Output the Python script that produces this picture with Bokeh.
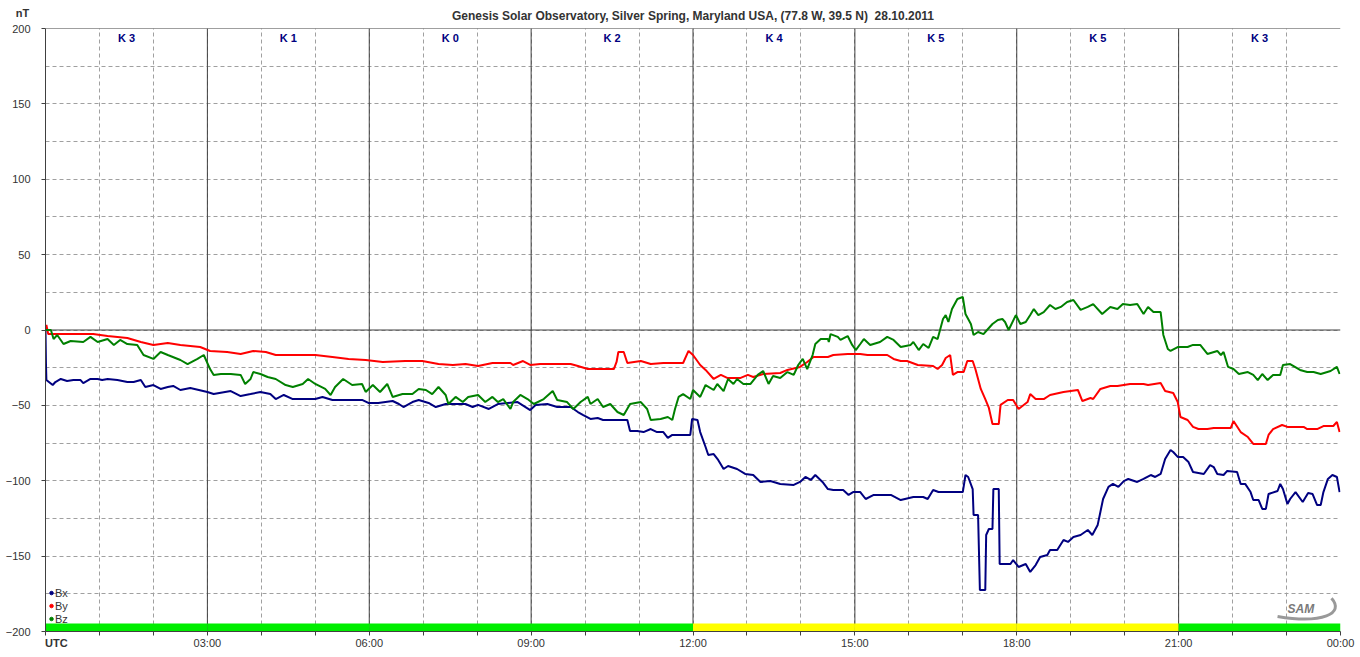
from bokeh.plotting import figure
from bokeh.models import FixedTicker, Span, Label, Range1d
from bokeh.embed import file_html
from bokeh.resources import INLINE

TITLE = "Genesis Solar Observatory, Silver Spring, Maryland USA, (77.8 W, 39.5 N) \u00a028.10.2011"

# K-index per 3-hour block
k_hours = [0, 3, 6, 9, 12, 15, 18, 21]
k_index = [3, 1, 0, 2, 4, 5, 5, 3]

# time in minutes of day (UTC), values in nT
bx_t = [0, 0.5, 1, 8, 11, 17, 24, 31, 39, 42, 50, 58, 63, 69, 80, 91, 98, 106, 111, 120, 128, 136, 142, 150, 161,
        180, 187, 206, 217, 228, 239, 250, 256, 265, 275, 300, 308, 319, 352, 359, 370, 386, 393, 398, 408, 415,
        426, 434, 445, 467, 475, 481, 493, 503, 525, 539, 545, 558, 569, 584, 592, 598, 606, 614, 620, 647, 650,
        658, 665, 673, 680, 687, 692, 697, 717, 719, 725, 728, 734, 737, 743, 748, 754, 759, 769, 778, 787, 795,
        806, 817, 832, 839, 845, 851, 856, 864, 870, 876, 887, 893, 898, 906, 912, 921, 940, 951, 965, 976, 981,
        987, 993, 1020, 1023, 1026, 1031, 1032, 1037, 1039, 1045, 1046, 1049, 1053, 1054, 1060, 1061, 1073, 1076,
        1082, 1090, 1095, 1101, 1106, 1114, 1117, 1125, 1132, 1137, 1143, 1151, 1159, 1164, 1170, 1173, 1176,
        1182, 1187, 1193, 1199, 1204, 1214, 1221, 1229, 1234, 1240, 1245, 1251, 1254, 1259, 1265, 1271, 1276,
        1288, 1295, 1299, 1303, 1310, 1314, 1325, 1329, 1334, 1340, 1343, 1349, 1353, 1357, 1360, 1370, 1373,
        1376, 1381, 1384, 1390, 1398, 1404, 1409, 1414, 1418, 1421, 1426, 1431, 1436, 1439]
bx_v = [0, -22, -33.2, -36.5, -34.5, -32.5, -33.8, -33.2, -33.2, -35.2, -32.5, -32.5, -33.2, -32.5, -33.2, -34.5,
        -34.5, -33.2, -37.8, -36.5, -39.1, -37.8, -37.1, -39.8, -38.5, -41.1, -42.5, -40.5, -43.8, -42.5, -41.1,
        -42.5, -45.8, -43.1, -45.8, -45.8, -44.4, -46.4, -46.4, -48.4, -48.4, -47.1, -49.1, -51.1, -47.8, -46.4,
        -48.4, -51.1, -49.1, -49.1, -51.1, -49.7, -52.4, -49.1, -47.8, -53.1, -49.7, -49.1, -51.1, -51.1, -54.4,
        -56.4, -59.0, -58.4, -59.7, -59.7, -67.0, -67.0, -67.7, -65.7, -67.7, -67.7, -71.6, -69.6, -69.6, -59.0,
        -59.7, -67.7, -77.6, -82.9, -82.3, -86.2, -92.2, -90.2, -92.2, -95.5, -96.2, -100.8, -100.2, -102.1,
        -102.8, -100.8, -97.5, -99.5, -96.2, -100.8, -105.5, -106.1, -106.1, -109.4, -107.5, -107.5, -112.1,
        -109.4, -109.4, -112.8, -110.8, -110.8, -112.1, -106.1, -107.5, -107.5, -96.2, -97.5, -105.5, -122.7,
        -122.7, -172.5, -172.5, -136.0, -132.0, -132.0, -105.5, -105.5, -155.2, -155.2, -152.6, -157.2, -155.2,
        -160.5, -155.9, -150.6, -149.2, -145.9, -145.9, -139.3, -140.6, -137.3, -136.0, -132.7, -136.0, -129.3,
        -120.7, -112.1, -104.1, -102.1, -104.1, -100.2, -98.8, -100.8, -98.8, -96.2, -97.5, -95.5, -85.6, -79.6,
        -80.9, -84.2, -84.2, -87.6, -94.2, -95.5, -89.6, -90.9, -95.5, -96.2, -93.5, -94.2, -102.1, -102.1,
        -107.5, -112.8, -112.8, -118.7, -118.7, -108.8, -106.8, -102.1, -105.5, -115.4, -112.1, -107.5, -114.1,
        -108.1, -108.8, -116.1, -116.1, -107.5, -98.8, -96.2, -97.5, -107.5]

by_t = [0, 1, 3, 31, 53, 69, 91, 106, 120, 136, 150, 172, 183, 202, 217, 231, 245, 256, 281, 300, 319, 337, 356,
        375, 400, 419, 437, 453, 467, 481, 497, 517, 520, 531, 539, 550, 584, 592, 603, 632, 635, 637, 643, 647,
        662, 673, 687, 709, 715, 720, 728, 734, 743, 751, 758, 773, 781, 787, 798, 817, 825, 839, 847, 854, 870,
        876, 892, 906, 914, 936, 943, 951, 958, 970, 987, 992, 997, 1001, 1006, 1009, 1014, 1021, 1025, 1031,
        1034, 1040, 1045, 1049, 1053, 1060, 1062, 1070, 1076, 1082, 1092, 1095, 1101, 1110, 1117, 1132, 1148,
        1153, 1162, 1165, 1173, 1184, 1192, 1206, 1221, 1226, 1240, 1245, 1254, 1259, 1262, 1270, 1276, 1282,
        1292, 1299, 1318, 1321, 1329, 1337, 1343, 1357, 1360, 1365, 1375, 1381, 1399, 1403, 1414, 1421, 1432,
        1436, 1439]
by_v = [0, 3.3, -2.7, -2.7, -2.7, -4.0, -5.3, -8.0, -9.9, -8.6, -9.9, -11.3, -13.9, -14.6, -15.9, -13.9, -14.6,
        -16.6, -16.6, -16.6, -17.9, -19.2, -19.9, -21.2, -20.6, -20.6, -22.6, -23.2, -22.6, -23.9, -21.9, -21.9,
        -23.2, -20.6, -23.2, -22.6, -22.6, -23.9, -25.9, -25.9, -21.2, -14.6, -14.6, -21.9, -20.6, -22.6, -21.9,
        -21.9, -13.9, -16.6, -23.2, -26.5, -32.5, -29.8, -31.8, -31.8, -29.8, -31.2, -29.2, -28.5, -26.5, -24.5,
        -21.2, -17.9, -17.9, -16.6, -15.9, -15.9, -16.6, -16.6, -19.2, -20.6, -20.6, -23.2, -23.9, -25.9, -23.2,
        -18.6, -16.6, -29.8, -27.9, -27.9, -20.6, -20.6, -25.9, -39.1, -45.8, -51.7, -62.4, -62.4, -49.7, -46.4,
        -46.4, -52.4, -47.8, -42.5, -45.8, -45.8, -43.1, -41.1, -39.8, -47.1, -45.1, -45.8, -39.1, -37.1, -37.1,
        -35.8, -35.8, -36.5, -35.2, -40.5, -41.8, -47.8, -57.7, -59.7, -64.3, -65.7, -65.7, -65.0, -65.0, -60.4,
        -67.7, -71.0, -75.6, -75.6, -69.6, -65.7, -63.0, -64.3, -64.3, -65.7, -65.7, -63.7, -63.7, -61.0, -67.7]

bz_t = [0, 6, 9, 13, 20, 28, 42, 50, 58, 69, 76, 83, 91, 102, 109, 120, 128, 136, 150, 158, 169, 176, 183, 187,
        195, 206, 217, 222, 228, 231, 239, 247, 256, 267, 275, 286, 292, 300, 311, 317, 322, 331, 341, 352, 356,
        364, 372, 380, 386, 397, 408, 415, 423, 430, 437, 445, 448, 456, 464, 470, 481, 489, 497, 503, 509, 517,
        520, 528, 536, 543, 554, 564, 569, 580, 587, 595, 603, 606, 614, 620, 628, 636, 643, 650, 662, 669, 673,
        684, 692, 697, 700, 704, 709, 717, 720, 728, 734, 743, 747, 754, 759, 765, 769, 776, 784, 792, 798, 804,
        809, 817, 825, 832, 837, 842, 847, 853, 856, 862, 870, 871, 873, 881, 884, 892, 897, 901, 906, 910, 917,
        928, 936, 943, 951, 962, 965, 971, 976, 982, 987, 992, 995, 998, 1001, 1004, 1008, 1014, 1020, 1023,
        1029, 1032, 1037, 1043, 1047, 1053, 1059, 1064, 1067, 1071, 1079, 1084, 1090, 1095, 1099, 1104, 1110,
        1117, 1123, 1129, 1136, 1143, 1151, 1159, 1165, 1175, 1184, 1192, 1198, 1206, 1214, 1221, 1226, 1232,
        1240, 1243, 1248, 1251, 1259, 1270, 1276, 1284, 1292, 1303, 1307, 1310, 1315, 1321, 1327, 1337, 1343,
        1348, 1353, 1359, 1365, 1373, 1376, 1384, 1395, 1403, 1410, 1418, 1429, 1436, 1439]
bz_v = [0, 0, -6.0, -3.3, -9.3, -7.3, -8.0, -4.6, -8.0, -6.0, -9.9, -6.6, -9.3, -9.9, -16.6, -19.2, -14.6, -16.6,
        -19.9, -22.6, -19.2, -16.6, -25.9, -29.8, -29.2, -29.2, -29.8, -35.8, -32.5, -27.9, -29.2, -31.2, -32.5,
        -36.5, -37.8, -35.8, -32.5, -35.8, -39.1, -43.1, -37.8, -32.5, -36.5, -35.8, -41.1, -36.5, -41.1, -35.8,
        -44.4, -42.5, -42.5, -39.1, -39.8, -42.5, -37.8, -43.1, -49.1, -44.4, -47.8, -44.4, -43.1, -47.8, -44.4,
        -47.8, -45.8, -52.4, -47.8, -43.1, -45.8, -49.1, -45.8, -40.5, -46.4, -47.8, -52.4, -47.8, -44.4, -49.1,
        -45.8, -51.1, -49.1, -54.4, -56.4, -49.1, -47.8, -52.4, -59.7, -59.0, -57.7, -59.7, -52.4, -44.4, -42.5,
        -45.8, -39.8, -44.4, -36.5, -39.8, -35.8, -40.5, -32.5, -35.8, -32.5, -35.8, -35.8, -29.8, -27.2, -35.8,
        -30.5, -31.8, -27.9, -29.8, -23.2, -19.2, -25.9, -16.6, -9.3, -6.0, -6.0, -8.0, -2.7, -4.6, -6.6, -4.0,
        -9.9, -13.3, -9.3, -6.0, -9.9, -8.0, -4.6, -6.6, -11.3, -9.9, -8.0, -13.3, -9.3, -11.9, -4.6, -6.0, 0.7,
        7.3, 9.9, 5.3, 13.9, 20.6, 21.9, 10.6, 4.0, -3.3, -1.3, -2.7, 0.0, 4.0, 6.6, 7.3, 5.3, 0.0, 9.9, 4.0, 5.3,
        9.9, 13.9, 9.9, 11.9, 16.6, 13.9, 15.3, 18.6, 19.9, 13.3, 15.3, 17.2, 10.6, 15.3, 13.9, 17.2, 16.6, 17.2,
        10.6, 15.3, 11.9, 11.9, -3.3, -12.6, -13.9, -11.3, -11.3, -9.9, -9.9, -15.9, -13.9, -16.6, -14.6, -24.5,
        -25.9, -29.2, -27.9, -29.8, -33.2, -29.2, -33.2, -29.8, -29.8, -23.2, -22.6, -26.5, -27.9, -27.9, -29.2,
        -27.2, -24.5, -29.2]

series_names = ["Bx", "By", "Bz"]
series_colors = ["#000080", "#ff0000", "#008000"]

AXIS_COL = "#404040"
GRID_COL = "#a0a0a0"
TXT_COL = "#333333"
FONT = "Liberation Sans"

p = figure(frame_width=1295, frame_height=603, output_backend="svg", toolbar_location=None,
           x_range=Range1d(0, 1440), y_range=Range1d(-200, 200),
           min_border_left=45, min_border_right=20, min_border_top=27, min_border_bottom=27,
           background_fill_color="white", border_fill_color="white", title=TITLE)
p.outline_line_color = None
p.title.align = "center"
p.title.text_font = FONT
p.title.text_font_size = "12px"
p.title.text_font_style = "bold"
p.title.text_color = TXT_COL
p.title.standoff = 12

# axes
p.xaxis.ticker = FixedTicker(ticks=[60 * i for i in range(25)])
labels = {}
for i in range(25):
    m = 60 * i
    if i % 3 == 0 and 0 < i < 24:
        labels[m] = "%02d:00" % i
    elif i == 24:
        labels[m] = "00:00"
    else:
        labels[m] = ""
p.xaxis.major_label_overrides = labels
p.yaxis.ticker = FixedTicker(ticks=list(range(-200, 201, 50)), minor_ticks=list(range(-175, 200, 50)))
for ax in (p.xaxis[0], p.yaxis[0]):
    ax.axis_line_color = AXIS_COL
    ax.major_tick_line_color = AXIS_COL
    ax.major_tick_out = 4
    ax.major_tick_in = 0
    ax.minor_tick_line_color = None
    ax.major_label_text_font = FONT
    ax.major_label_text_font_size = "11px"
    ax.major_label_text_color = TXT_COL
p.xaxis.major_label_standoff = 1
p.yaxis.major_label_standoff = 11

p.xgrid.ticker = FixedTicker(ticks=[60 * i for i in range(1, 24)])
p.xgrid.grid_line_color = GRID_COL
p.xgrid.grid_line_dash = "4 3"
p.ygrid.grid_line_color = GRID_COL
p.ygrid.grid_line_dash = "4 3"
p.ygrid.minor_grid_line_color = GRID_COL
p.ygrid.minor_grid_line_dash = "4 3"

# solid lines: every 3 hours, zero line, top border
for h in range(3, 24, 3):
    p.add_layout(Span(location=h * 60, dimension="height", line_color=AXIS_COL, line_width=1, level="underlay"))
p.add_layout(Span(location=0, dimension="width", line_color=AXIS_COL, line_width=1, level="underlay"))
p.add_layout(Span(location=200, dimension="width", line_color=AXIS_COL, line_width=1, level="underlay"))

# K-index bar at the bottom
bar_left = [h * 60 for h in k_hours]
bar_right = [(h + 3) * 60 for h in k_hours]
bar_col = ["#00ee00" if k < 4 else "#ffff00" for k in k_index]
p.quad(left=bar_left, right=bar_right, bottom=-200, top=-194.7, fill_color=bar_col, line_color=None)

# data lines
for t, v, c in ((bx_t, bx_v, series_colors[0]), (by_t, by_v, series_colors[1]), (bz_t, bz_v, series_colors[2])):
    p.line(t, v, line_color=c, line_width=2)

# K labels
for h, k in zip(k_hours, k_index):
    p.add_layout(Label(x=h * 60 + 90, y=193.4, text="K %d" % k, text_align="center", text_baseline="middle",
                       text_font=FONT, text_font_style="bold", text_font_size="11px", text_color="#000080"))

# legend
for i, (name, col) in enumerate(zip(series_names, series_colors)):
    yy = -174.5 - 8.6 * i
    p.scatter([6.7], [yy], size=3.5, color=col)
    p.add_layout(Label(x=10.5, y=yy, text=name, text_baseline="middle", text_font=FONT,
                       text_font_size="11px", text_color=TXT_COL))

# unit label and UTC label, placed in side panels so they are not clipped to the frame
p.add_layout(Label(x=-25.6, y=210.0, text="nT", text_align="center", text_baseline="middle",
                   text_font=FONT, text_font_style="bold", text_font_size="11px", text_color=TXT_COL), "right")
p.add_layout(Label(x=12, y=-207.6, text="UTC", text_align="center", text_baseline="middle",
                   text_font=FONT, text_font_style="bold", text_font_size="11px", text_color=TXT_COL), "below")

# SAM logo (approximation)
p.bezier(x0=[1370], y0=[-190], x1=[1430], y1=[-178], cx0=[1420], cy0=[-195], cx1=[1445], cy1=[-188],
         line_color="#999999", line_width=3)
p.add_layout(Label(x=1396, y=-185.0, text="SAM", text_align="center", text_baseline="middle",
                   text_font=FONT, text_font_style="bold italic", text_font_size="12px", text_color="#7a7a7a"))

open("out.html", "w").write(file_html(p, INLINE))
